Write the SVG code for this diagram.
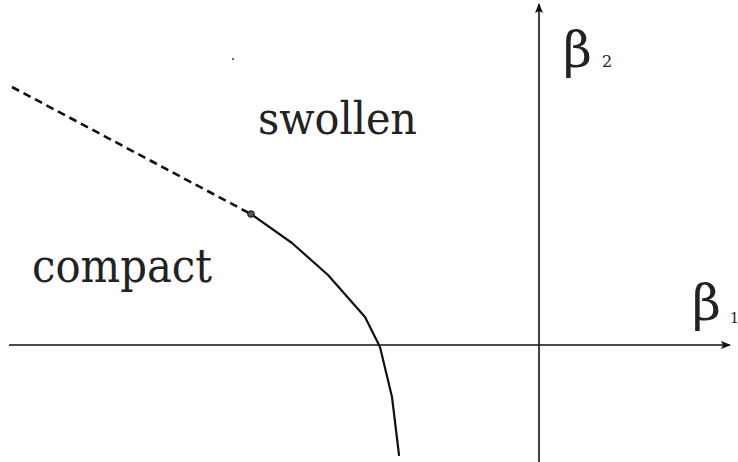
<svg xmlns="http://www.w3.org/2000/svg" width="738" height="462" viewBox="0 0 738 462">
<style>
.axis{stroke:#111;stroke-width:1.6;fill:none}
.curve{stroke:#111;stroke-width:2.2;fill:none;stroke-linejoin:round;stroke-linecap:round}
.dash{stroke:#111;stroke-width:2.6;fill:none;stroke-dasharray:8 5}
.lbl{font-family:'DejaVu Serif','Liberation Serif',serif;fill:#222}
</style>
<defs>
<marker id="ah" viewBox="0 0 10 8" refX="9" refY="4" markerWidth="10" markerHeight="8" markerUnits="userSpaceOnUse" orient="auto">
<path d="M0,0 L10,4 L0,8 L2,4 Z" fill="#111"/>
</marker>
</defs>
<rect width="738" height="462" fill="#fff"/>
<g id="connectors">
<line id="axis-b1" class="axis" x1="9" y1="345" x2="730" y2="345" marker-end="url(#ah)"/>
<line id="axis-b2" class="axis" x1="539" y1="462" x2="539" y2="4" marker-end="url(#ah)"/>
<line id="dashed" class="dash" x1="12" y1="87" x2="249" y2="213"/>
<polyline id="boundary" class="curve" points="251,214 292,243 328,275 365,317 380,347 392,397 399,455"/>
<circle cx="251" cy="214" r="3.3" fill="#555" stroke="#111" stroke-width="1"/>
<circle cx="233" cy="59" r="1" fill="#333"/>
</g>
<g id="label-swollen"><text class="lbl" x="258" y="134" font-size="45" textLength="159" lengthAdjust="spacingAndGlyphs">swollen</text></g>
<g id="label-compact"><text class="lbl" x="32" y="282" font-size="46" textLength="180" lengthAdjust="spacingAndGlyphs">compact</text></g>
<g id="label-beta2"><text class="lbl" x="563" y="67" font-size="50">β</text><text class="lbl" x="602" y="67" font-size="16">2</text></g>
<g id="label-beta1"><text class="lbl" x="692" y="320" font-size="50">β</text><text class="lbl" x="730" y="323" font-size="14">1</text></g>
</svg>
